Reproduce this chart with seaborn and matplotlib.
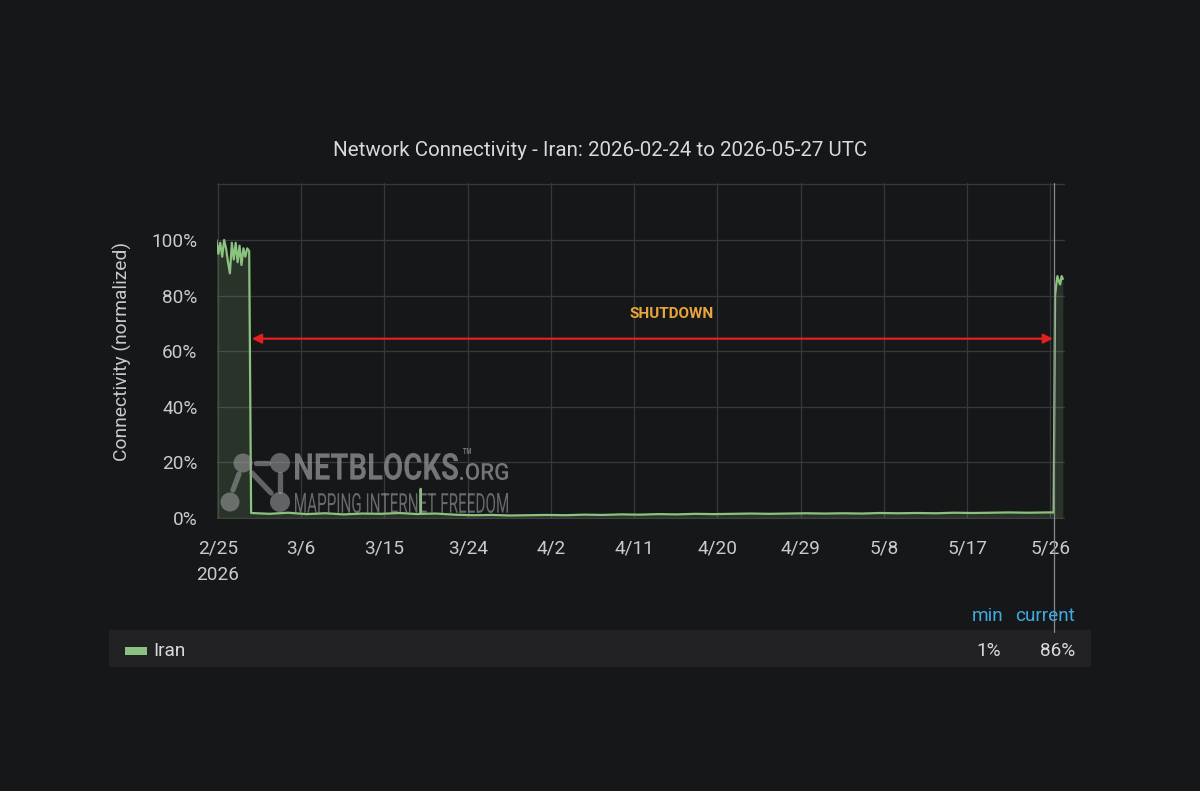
import numpy as np
import pandas as pd
import seaborn as sns
import matplotlib.pyplot as plt
from matplotlib.textpath import TextPath
from matplotlib.font_manager import FontProperties
from matplotlib.patches import PathPatch, Circle, Rectangle
from matplotlib.transforms import Affine2D, IdentityTransform
from matplotlib.lines import Line2D

# ---- data ----
pre_start = "2026-02-24 20:00"          # sampled every 5 h
pre_values = [100, 95, 99, 94, 100, 97, 92, 88, 99, 93, 99, 92, 98, 91, 97, 94, 97, 96]

low_start = "2026-02-28 14:00"          # sampled every 2 days
low_values = [1.8, 1.5, 1.9, 1.4, 1.7, 1.3, 1.6, 1.5, 1.8, 1.4, 1.6, 1.2,
              1.0, 1.1, 0.9, 1.0, 1.1, 1.0, 1.2, 1.1, 1.3, 1.2, 1.4, 1.3,
              1.5, 1.4, 1.5, 1.6, 1.5, 1.6, 1.7, 1.6, 1.7, 1.6, 1.8, 1.7,
              1.8, 1.7, 1.9, 1.8, 1.9, 2.0, 1.9, 2.0]

spike_times = ["2026-03-18 21:00", "2026-03-18 22:00", "2026-03-18 23:00"]
spike_values = [1.5, 10.5, 1.5]

rec_times = ["2026-05-26 08:00", "2026-05-26 12:00", "2026-05-26 15:00", "2026-05-26 18:00",
             "2026-05-26 22:00", "2026-05-27 01:00", "2026-05-27 05:00", "2026-05-27 08:00"]
rec_values = [2.0, 80, 84, 87, 85, 84, 87, 86]

x_start, x_end = "2026-02-24 21:30", "2026-05-27 13:40"
tick_start, tick_step, n_ticks = "2026-02-25", "9D", 11
y_ticks = [0, 20, 40, 60, 80, 100, 120]

shutdown_start, shutdown_end, shutdown_level = "2026-02-28 16:00", "2026-05-26 06:30", 64.5
shutdown_label_time, shutdown_label_level = "2026-04-15 00:00", 73.5
crosshair_time = "2026-05-26 10:00"

title = "Network Connectivity - Iran: 2026-02-24 to 2026-05-27 UTC"
series_name = "Iran"

# ---- colours ----
BG = "#161719"
GREEN = "#8cc27f"
GRID = "#37383b"
TXT = "#c9cacc"
BLUE = "#3fa9e0"

pre = pd.DataFrame({"time": pd.date_range(pre_start, periods=len(pre_values), freq="5h"),
                    "value": pre_values})
low = pd.DataFrame({"time": pd.date_range(low_start, periods=len(low_values), freq="2D"),
                    "value": low_values})
spike = pd.DataFrame({"time": pd.to_datetime(spike_times), "value": spike_values})
rec = pd.DataFrame({"time": pd.to_datetime(rec_times), "value": rec_values})
df = pd.concat([pre, low, spike, rec]).sort_values("time").reset_index(drop=True)

sns.set_theme(style="dark", rc={
    "figure.facecolor": BG, "axes.facecolor": BG, "savefig.facecolor": BG,
    "grid.color": GRID, "grid.linewidth": 0.9,
    "text.color": TXT, "xtick.color": TXT, "ytick.color": TXT,
})
plt.rcParams["font.family"] = ["Roboto", "DejaVu Sans"]

W, H = 1200, 791
fig = plt.figure(figsize=(W / 100, H / 100), dpi=100)
ax = fig.add_axes([217 / W, 1 - 519 / H, (1065 - 217) / W, (519 - 183) / H])

ax.fill_between(df["time"], df["value"], color=GREEN, alpha=0.17, lw=0, zorder=2)
sns.lineplot(data=df, x="time", y="value", ax=ax, color=GREEN, lw=1.6,
             estimator=None, zorder=3)

ax.set_xlim(pd.Timestamp(x_start), pd.Timestamp(x_end))
ax.set_ylim(-0.36, 120.5)
ticks = pd.date_range(tick_start, periods=n_ticks, freq=tick_step)
ax.set_xticks(ticks)
labels = [f"{t.month}/{t.day}" for t in ticks]
labels[0] = labels[0] + "\n2026"
ax.set_xticklabels(labels, fontsize=13.7, linespacing=1.55)
ax.set_yticks(y_ticks)
ax.set_yticklabels([f"{v}%" if v <= 100 else "" for v in y_ticks], fontsize=13.7)
ax.tick_params(axis="x", length=0, pad=15)
ax.tick_params(axis="y", length=0, pad=14)
ax.grid(True, axis="both")
ax.set_xlabel("")
ax.set_ylabel("")
for s in ax.spines.values():
    s.set_visible(False)

# shutdown arrow + label
ax.annotate("", xy=(pd.Timestamp(shutdown_end), shutdown_level),
            xytext=(pd.Timestamp(shutdown_start), shutdown_level),
            arrowprops=dict(arrowstyle="<|-|>", color="#e3201f", lw=1.6,
                            mutation_scale=14, shrinkA=0, shrinkB=0), zorder=5)
ax.text(pd.Timestamp(shutdown_label_time), shutdown_label_level, "SHUTDOWN",
        color="#e8a53c", fontsize=11, fontweight="bold", ha="center", va="center", zorder=5)

# hover crosshair
ax.axvline(pd.Timestamp(crosshair_time), ymin=-0.336, ymax=1, color="#8a8b8e",
           lw=0.9, clip_on=False, zorder=6)

# title and y label
fig.text(0.5, 1 - 151 / H, title, ha="center", va="center", fontsize=14.8, color="#d8d9da")
fig.text(122 / W, 1 - 351 / H, "Connectivity (normalized)", rotation=90,
         ha="center", va="center", fontsize=13.9, color=TXT)

# ---- watermark ----
WM = "#a2a2a4"


def stretched(s, x0, x1, top, base, weight, alpha=0.68):
    fp = FontProperties(family="Roboto", weight=weight)
    tp = TextPath((0, 0), s, size=1, prop=fp)
    ext = tp.get_extents()
    sx = (x1 - x0) / ext.width
    sy = (base - top) / ext.height
    tr = Affine2D().translate(-ext.x0, -ext.y0).scale(sx, sy).translate(x0, H - base)
    fig.add_artist(PathPatch(tp, transform=tr, fc=WM, ec="none", alpha=alpha, zorder=4))


stretched("NETBLOCKS", 295, 458, 453, 480, "bold")
stretched(".ORG", 460, 508, 463, 480, "medium")
stretched("TM", 463, 471, 448, 454, "bold")
stretched("MAPPING INTERNET FREEDOM", 295, 508, 493, 513, "normal", alpha=0.6)

for (x0, y0, x1, y1) in [(256, 463, 268, 463), (239, 474, 233, 490),
                         (252, 473, 271, 493), (280, 474, 280, 491)]:
    fig.add_artist(Line2D([x0, x1], [H - y0, H - y1], transform=IdentityTransform(),
                          color=WM, lw=3.8, alpha=0.55, solid_capstyle="round"))
for (cx, cy, r) in [(243, 463, 9.5), (280, 463, 10), (230, 502, 9.5), (280, 502, 10)]:
    fig.add_artist(Circle((cx, H - cy), r, transform=IdentityTransform(),
                          fc=WM, ec="none", alpha=0.55))

# ---- legend table ----
fig.add_artist(Rectangle((109 / W, 1 - 667 / H), (1091 - 109) / W, 37 / H,
                         transform=fig.transFigure, fc="#222225", ec="none", zorder=0))
fig.add_artist(Rectangle((125 / W, 1 - 655 / H), 22 / W, 8 / H,
                         transform=fig.transFigure, fc=GREEN, ec="none"))
fig.text(153 / W, 1 - 651 / H, series_name, ha="left", va="center", fontsize=13.7, color="#d8d9da")
fig.text(1003 / W, 1 - 616 / H, "min", ha="right", va="center", fontsize=13.7, color=BLUE)
fig.text(1075 / W, 1 - 616 / H, "current", ha="right", va="center", fontsize=13.7, color=BLUE)
fig.text(1001 / W, 1 - 651 / H, f"{min(df['value']):.0f}%", ha="right", va="center",
         fontsize=13.7, color="#d8d9da")
fig.text(1075 / W, 1 - 651 / H, f"{df['value'].iloc[-1]:.0f}%", ha="right", va="center",
         fontsize=13.7, color="#d8d9da")

fig.savefig("out.png", dpi=100, facecolor=BG)
